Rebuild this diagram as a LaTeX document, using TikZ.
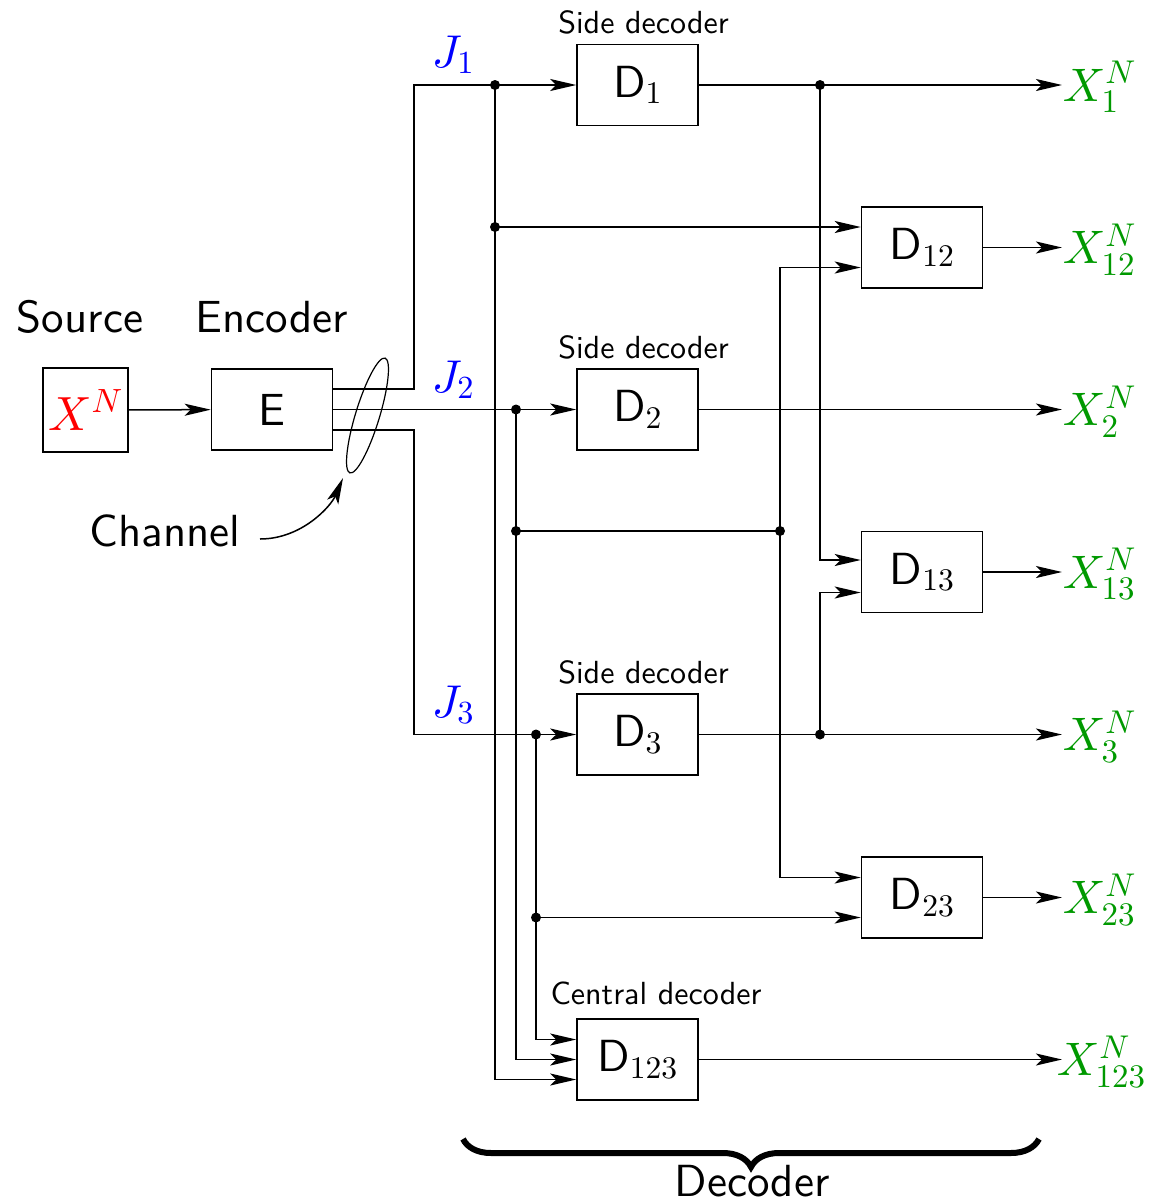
\RequirePackage{fix-cm}
\documentclass[tikz,border=0pt]{standalone}
\usepackage[no-math]{fontspec}
\setsansfont{lmsans10-regular.otf}
\DeclareFontShape{OML}{cmm}{m}{it}{<->cmmi10}{}
\DeclareFontShape{OT1}{cmr}{m}{n}{<->cmr10}{}
\usetikzlibrary{arrows.meta,calc,shapes.geometric,decorations.pathreplacing}
\colorlet{xgreen}{green!60!black}
\begin{document}
\begin{tikzpicture}[x=1pt,y=-1pt,
  line width=1.5pt,
  every node/.style={font=\sffamily\fontsize{45}{54}\selectfont},
  box/.style={draw, line width=1.5pt, minimum width=121pt, minimum height=81pt, inner sep=0pt},
  arr/.style={-{Stealth[length=26pt,width=12pt,inset=6pt]}},
  dot/.style={circle, fill, inner sep=0pt, minimum size=10pt},
  small/.style={font=\sffamily\fontsize{32}{38}\selectfont, anchor=base},
  big/.style={anchor=base},
  outlab/.style={text=xgreen, anchor=base west, inner sep=0pt, font=\fontsize{47}{56}\selectfont},
  jlab/.style={text=blue, anchor=base west, inner sep=0pt, font=\fontsize{46}{55}\selectfont}]
\useasboundingbox (0,0) rectangle (1150,1203);

% boxes
\node[box, minimum width=85pt, minimum height=84pt, text=red,
      font=\fontsize{48}{57}\selectfont] (src) at (85.5,410) {$X^N$};
\node[box] (enc) at (272,409.5) {E};
\node[box] (d1) at (637.5,85) {D$_1$};
\node[box] (d2) at (637.5,409.5) {D$_2$};
\node[box] (d3) at (637.5,734.5) {D$_3$};
\node[box] (d123) at (637.5,1059.5) {D$_{123}$};
\node[box] (d12) at (922,247.5) {D$_{12}$};
\node[box] (d13) at (922,572) {D$_{13}$};
\node[box] (d23) at (922,897.5) {D$_{23}$};

% labels
\node[big] (lsrc) at (80,332) {Source};
\node[big] (lenc) at (272,332) {Encoder};
\node[small] (ls1) at (643.5,33) {Side decoder};
\node[small] (ls2) at (643.5,358) {Side decoder};
\node[small] (ls3) at (643.5,683) {Side decoder};
\node[small] (lc) at (656,1004) {Central decoder};
\node[big] (chl) at (165,546) {Channel};
\node[big] (ldec) at (752,1196) {Decoder};

\node[jlab] (J1) at (431,67) {$J_1$};
\node[jlab] (J2) at (431,392) {$J_2$};
\node[jlab] (J3) at (431,717) {$J_3$};

% output labels
\node[outlab] (x1) at (1062,101) {$X_1^N$};
\node[outlab] (x12) at (1062,263.5) {$X_{12}^N$};
\node[outlab] (x2) at (1062,425.5) {$X_2^N$};
\node[outlab] (x13) at (1062,588) {$X_{13}^N$};
\node[outlab] (x3) at (1062,750.5) {$X_3^N$};
\node[outlab] (x23) at (1062,913.5) {$X_{23}^N$};
\node[outlab] (x123) at (1056,1075.5) {$X_{123}^N$};

% junction dots
\node[dot] (j1a) at (495,85) {};
\node[dot] (j1b) at (495,227) {};
\node[dot] (j2a) at (516,409.5) {};
\node[dot] (j2b) at (516,531) {};
\node[dot] (j2c) at (780,531) {};
\node[dot] (j3a) at (536,734.5) {};
\node[dot] (j3b) at (536,917.5) {};
\node[dot] (k1) at (820,85) {};
\node[dot] (k3) at (820,734.5) {};

% channel ellipse
\node[draw, ellipse, line width=1.2pt, minimum width=24pt, minimum height=120pt,
      inner sep=0pt, rotate=-17] (chan) at (367.5,415.5) {};
\coordinate (chstart) at (260,539);
\coordinate (chtip) at (343,478);

% source to encoder
\draw[arr] (src) -- (enc);

% encoder outputs
\draw[arr] ($(enc.east)+(0,-20.5)$) -- (414,389) |- (d1.west);
\draw[arr] (enc.east) -- (d2.west);
\draw[arr] ($(enc.east)+(0,20.5)$) -- (414,430) |- (d3.west);

% description 1 bus
\draw[arr] (j1a.center) |- ($(d123.west)+(0,20)$);
\draw[arr] (j1b.center) -- (j1b -| d12.west);
% description 2 bus
\draw[arr] (j2a.center) |- (d123.west);
\draw (j2b.center) -- (j2c.center);
\draw[arr] (j2c.center) |- ($(d12.west)+(0,20)$);
\draw[arr] (j2c.center) |- ($(d23.west)+(0,-20)$);
% description 3 bus
\draw[arr] (j3a.center) |- ($(d123.west)+(0,-20)$);
\draw[arr] (j3b.center) -- (j3b -| d23.west);
% side decoder outputs to pair decoders
\draw[arr] (k1.center) |- ($(d13.west)+(0,-12)$);
\draw[arr] (k3.center) |- ($(d13.west)+(0,20.5)$);

% outputs
\draw[arr] (d1.east) -- (d1.east -| x1.west);
\draw[arr] (d12.east) -- (d12.east -| x12.west);
\draw[arr] (d2.east) -- (d2.east -| x2.west);
\draw[arr] (d13.east) -- (d13.east -| x13.west);
\draw[arr] (d3.east) -- (d3.east -| x3.west);
\draw[arr] (d23.east) -- (d23.east -| x23.west);
\draw[arr] (d123.east) -- (1062,1059.5);

% channel arrow
\draw[arr] (chstart) .. controls +(42,0) and +(-12,28) .. (chtip);

% brace
\draw[decorate, decoration={brace, mirror, amplitude=28pt}, line width=6pt]
  (463,1139) -- (1039,1139);
\end{tikzpicture}
\end{document}
